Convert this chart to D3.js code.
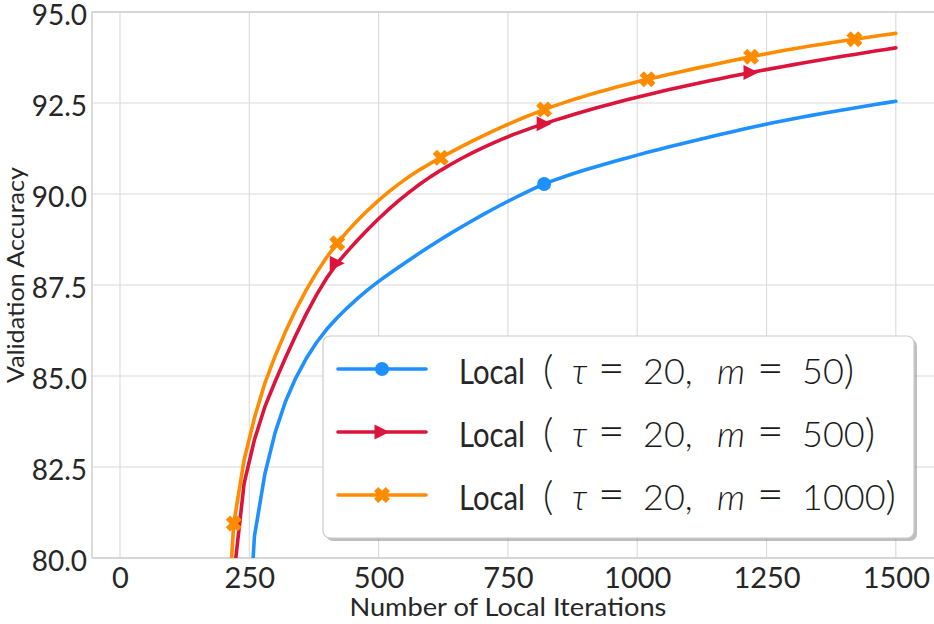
<!DOCTYPE html>
<html><head><meta charset="utf-8">
<script src="https://cdn.jsdelivr.net/npm/d3@7"></script>
<style>body{margin:0;background:#fff} svg{display:block}</style>
</head><body><svg id="c" width="934" height="624"></svg>
<script>
// ---- data ----
const iterations = [200,220,240,260,280,300,320,340,360,380,400,420,
 440,460,480,500,520,540,560,580,600,620,
 640,660,680,700,720,740,760,780,800,820,
 840,860,880,900,920,940,960,980,1000,1020,
 1040,1060,1080,1100,1120,1140,1160,1180,1200,1220,
 1240,1260,1280,1300,1320,1340,1360,1380,1400,1420,
 1440,1460,1480,1500];
const accM50 = [66.0,71.5,76.0,80.6,82.3,83.45,84.3,84.95,85.48,85.92,86.29,86.6,
 86.88,87.14,87.38,87.6,87.8,88.0,88.195,88.385,88.57,88.75,
 88.925,89.095,89.26,89.42,89.575,89.725,89.87,90.01,90.145,90.275,
 90.38,90.48,90.575,90.665,90.75,90.833,90.913,90.991,91.068,91.145,
 91.217,91.288,91.358,91.428,91.497,91.565,91.632,91.698,91.763,91.827,
 91.89,91.95,92.007,92.062,92.115,92.167,92.218,92.268,92.317,92.365,
 92.412,92.458,92.503,92.547];
const accM500 = [75.5,79.5,82.05,83.25,84.15,84.85,85.5,86.12,86.7,87.23,87.7,88.1,
 88.43,88.743,89.04,89.32,89.583,89.83,90.06,90.273,90.47,90.65,
 90.818,90.976,91.124,91.263,91.393,91.515,91.629,91.736,91.836,91.93,
 92.022,92.111,92.197,92.28,92.36,92.438,92.514,92.588,92.66,92.73,
 92.798,92.864,92.928,92.99,93.051,93.111,93.169,93.226,93.282,93.337,
 93.391,93.444,93.496,93.547,93.597,93.646,93.694,93.742,93.789,93.835,
 93.881,93.926,93.971,94.015];
const accM1000 = [76.4,80.95,82.7,83.85,84.8,85.55,86.22,86.82,87.36,87.84,88.27,88.65,
 88.98,89.285,89.565,89.825,90.065,90.285,90.485,90.67,90.84,90.995,
 91.15,91.3,91.445,91.585,91.72,91.85,91.975,92.095,92.21,92.32,
 92.42,92.516,92.608,92.696,92.78,92.86,92.937,93.011,93.082,93.15,
 93.217,93.283,93.347,93.41,93.472,93.533,93.593,93.653,93.712,93.77,
 93.827,93.882,93.934,93.984,94.032,94.078,94.123,94.167,94.21,94.252,
 94.293,94.333,94.373,94.412];
const markerItersM50 = [820];
const markerItersM500 = [420,820,1220];
const markerItersM1000 = [220,420,620,820,1020,1220,1420];
const mValues = ["50","500","1000"];
const xTicks = [0,250,500,750,1000,1250,1500];
const yTicks = [80,82.5,85,87.5,90,92.5,95];
const xLabel = "Number of Local Iterations";
const yLabel = "Validation Accuracy";

// ---- layout / style ----
const colors = ["#1e90ff","#dc143c","#ff8c00"];
const markerTypes = ["circle","triangle","x"];
const P = {left:92, top:12, right:934, bottom:558};
const svg = d3.select("#c");
const x = d3.scaleLinear().domain([-54.1,1573.8]).range([P.left,P.right]);
const y = d3.scaleLinear().domain([80,95]).range([P.bottom,P.top]);

const series = [
  {vals:accM50, marks:markerItersM50},
  {vals:accM500, marks:markerItersM500},
  {vals:accM1000, marks:markerItersM1000}
].map((s,i)=>({...s, color:colors[i], marker:markerTypes[i], m:mValues[i],
  pts: iterations.map((it,j)=>[it,s.vals[j]])}));

svg.append("defs").append("clipPath").attr("id","clip")
  .append("rect").attr("x",P.left).attr("y",P.top)
  .attr("width",P.right-P.left).attr("height",P.bottom-P.top);

// grid
const grid = svg.append("g");
grid.selectAll(".gx").data(xTicks).join("line")
  .attr("x1",d=>x(d)).attr("x2",d=>x(d)).attr("y1",P.top).attr("y2",P.bottom)
  .attr("stroke","#dadada").attr("stroke-width",1.1);
grid.selectAll(".gy").data(yTicks).join("line")
  .attr("x1",P.left).attr("x2",P.right).attr("y1",d=>y(d)).attr("y2",d=>y(d))
  .attr("stroke","#dadada").attr("stroke-width",1.1);
// spines
[[P.left,P.left,P.top,P.bottom],[P.left,P.right,P.bottom,P.bottom],[P.left,P.right,P.top,P.top]].forEach(s=>
  svg.append("line").attr("x1",s[0]).attr("x2",s[1]).attr("y1",s[2]).attr("y2",s[3])
    .attr("stroke","#cfcfcf").attr("stroke-width",1.5));

// axes
const tickFont = "Lato";
const ax = svg.append("g").attr("transform",`translate(0,${P.bottom})`)
  .call(d3.axisBottom(x).tickValues(xTicks).tickSize(0).tickPadding(9).tickFormat(d3.format("d")));
ax.select(".domain").remove();
ax.attr("font-family",tickFont);
ax.selectAll("text").style("font-family",tickFont).attr("font-size",29).attr("fill","#262626");
const ay = svg.append("g").attr("transform",`translate(${P.left},0)`)
  .call(d3.axisLeft(y).tickValues(yTicks).tickSize(0).tickPadding(5).tickFormat(d3.format(".1f")));
ay.select(".domain").remove();
ay.attr("font-family",tickFont);
ay.selectAll("text").style("font-family",tickFont).attr("font-size",28).attr("fill","#262626").attr("dy","0.45em");

svg.append("text").attr("x",(x(0)+x(1500))/2).attr("y",616).attr("text-anchor","middle")
  .style("font-family","Lato").attr("font-size",25).attr("fill","#262626")
  .attr("textLength",317).attr("lengthAdjust","spacingAndGlyphs").text(xLabel);
svg.append("text").attr("transform","translate(23.5,275) rotate(-90)").attr("text-anchor","middle")
  .style("font-family","Lato").attr("font-size",23).attr("fill","#262626")
  .attr("textLength",216).attr("lengthAdjust","spacingAndGlyphs").text(yLabel);

// markers
function xPath(h,a){ // filled X
  const L=h;
  const pts=[[a,-L],[a,-a],[L,-a],[L,a],[a,a],[a,L],[-a,L],[-a,a],[-L,a],[-L,-a],[-a,-a],[-a,-L]];
  const c=Math.SQRT1_2;
  return "M"+pts.map(([px,py])=>[(px-py)*c,(px+py)*c].map(v=>v.toFixed(2)).join(",")).join("L")+"Z";
}
function drawMarker(g,type,cx,cy,color){
  if(type==="circle") g.append("circle").attr("cx",cx).attr("cy",cy).attr("r",7).attr("fill",color);
  else if(type==="triangle") g.append("path").attr("d","M7.5,0L-7.5,-7.5L-7.5,7.5Z")
      .attr("transform",`translate(${cx},${cy})`).attr("fill",color);
  else g.append("path").attr("d",xPath(8.3,3)).attr("transform",`translate(${cx},${cy})`).attr("fill",color);
}

const plot = svg.append("g").attr("clip-path","url(#clip)");
const line = d3.line().x(d=>x(d[0])).y(d=>y(d[1]));
series.forEach(s=>{
  plot.append("path").datum(s.pts).attr("d",line).attr("fill","none")
    .attr("stroke",s.color).attr("stroke-width",3.6).attr("stroke-linejoin","round").attr("stroke-linecap","round");
  s.pts.filter(p=>s.marks.includes(p[0])).forEach(p=>drawMarker(plot,s.marker,x(p[0]),y(p[1]),s.color));
});

// legend
const lg = svg.append("g");
const LB = {x:323, y:336, w:591, h:202};
lg.append("rect").attr("x",LB.x+3).attr("y",LB.y+3).attr("width",LB.w).attr("height",LB.h).attr("rx",7)
  .attr("fill","#8a8a8a").attr("opacity",0.55);
lg.append("rect").attr("x",LB.x).attr("y",LB.y).attr("width",LB.w).attr("height",LB.h).attr("rx",7)
  .attr("fill","#fff").attr("stroke","#cccccc").attr("stroke-width",1.2);
// math label tokens and their horizontal offsets from the label start (layout only)
const mathTokens = (mv)=>[
  {t:"(", dx:0, it:false, fs:40},
  {t:"τ", dx:29, it:true, fs:36},
  {t:"=", dx:55, it:false, fs:46},
  {t:"20,", dx:100, it:false, fs:36},
  {t:"m", dx:174, it:true, fs:36},
  {t:"=", dx:214, it:false, fs:46},
  {t:mv, dx:259, it:false, fs:36},
];
series.forEach((s,i)=>{
  const ry = 369 + i*63;
  lg.append("line").attr("x1",338).attr("x2",426).attr("y1",ry).attr("y2",ry)
    .attr("stroke",s.color).attr("stroke-width",3.6).attr("stroke-linecap","round");
  drawMarker(lg,s.marker,382,ry,s.color);
  lg.append("text").attr("x",459).attr("y",ry+15).style("font-family","Lato")
    .attr("font-size",35).attr("fill","#262626").attr("textLength",66).attr("lengthAdjust","spacingAndGlyphs").text("Local");
  const t = lg.append("text").attr("y",ry+15).style("font-family","Lato").attr("fill","#1a1a1a");
  mathTokens(s.m).forEach(k=>{
    t.append("tspan").attr("x",543+k.dx).attr("font-size",k.fs)
      .attr("font-style",k.it?"italic":"normal").attr("font-weight",300).text(k.t);
  });
  t.append("tspan").attr("font-size",40).attr("font-weight",300).text(")");
});
</script></body></html>
